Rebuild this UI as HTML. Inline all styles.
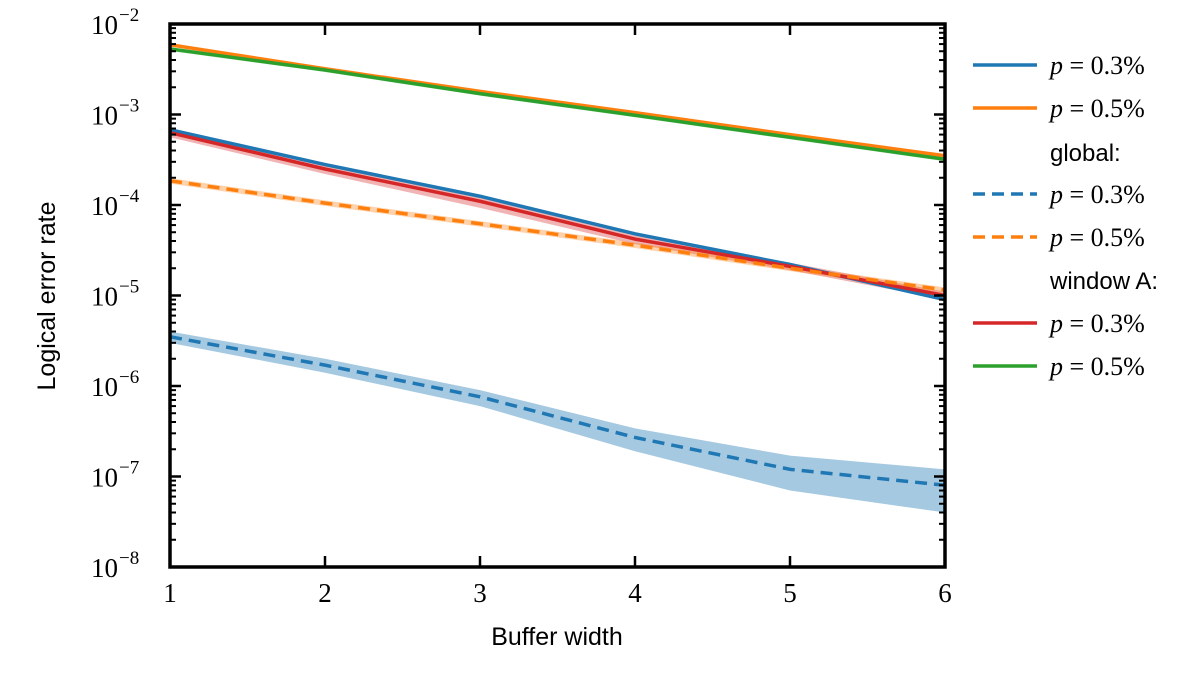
<!DOCTYPE html>
<html><head><meta charset="utf-8"><style>
body{margin:0;background:#fff}
svg text{font-family:"Liberation Serif",serif}
.sans{font-family:"Liberation Sans",sans-serif}
</style></head><body>
<svg id="chart" width="1199" height="672" xmlns="http://www.w3.org/2000/svg">
<g id="bands"></g>
<g id="lines"></g>
<g id="axes"></g>
<g id="legend"></g>
</svg>
<script>
const xCats=[1,2,3,4,5,6];
const localP3=[6.8e-4,2.8e-4,1.25e-4,4.8e-5,2.2e-5,9e-6];
const localP5=[5.9e-3,3.2e-3,1.8e-3,1.05e-3,6e-4,3.5e-4];
const globalP3=[3.5e-6,1.7e-6,7.6e-7,2.7e-7,1.2e-7,8e-8];
const globalP3Lo=[3.0e-6,1.4e-6,6e-7,1.9e-7,7e-8,4e-8];
const globalP3Hi=[4.0e-6,2.0e-6,9e-7,3.4e-7,1.7e-7,1.2e-7];
const globalP5=[1.85e-4,1.05e-4,6.2e-5,3.6e-5,2.0e-5,1.15e-5];
const windowP3=[6.3e-4,2.5e-4,1.1e-4,4.2e-5,2.1e-5,1.0e-5];
const windowP3Lo=[5.6e-4,2.2e-4,9.3e-5,3.7e-5,1.9e-5,9e-6];
const windowP3Hi=[7.0e-4,2.8e-4,1.3e-4,4.6e-5,2.3e-5,1.1e-5];
const windowP5=[5.3e-3,3.1e-3,1.7e-3,9.8e-4,5.6e-4,3.2e-4];
const yTickExps=[-2,-3,-4,-5,-6,-7,-8];

const X0=170,X1=945,Y0=24,Y1=567;
const xs=v=>X0+(v-1)/5*(X1-X0);
const ys=v=>Y0+(-2-Math.log10(v))/6*(Y1-Y0);
const NS="http://www.w3.org/2000/svg";
function mk(tag,parent,attrs){const e=document.createElementNS(NS,tag);for(const k in attrs)e.setAttribute(k,attrs[k]);parent.appendChild(e);return e;}
const bands=document.getElementById('bands'),lines=document.getElementById('lines'),axes=document.getElementById('axes'),legend=document.getElementById('legend');

function band(lo,hi,color,op,name){
  let d='M'+xCats.map((x,i)=>xs(x)+','+ys(hi[i])).join('L')+'L'+xCats.slice().reverse().map((x,j)=>{const i=xCats.length-1-j;return xs(x)+','+ys(lo[i]);}).join('L')+'Z';
  const p=mk('path',bands,{d:d,fill:color,'fill-opacity':op});
  
  
}
function line(vals,color,dash,name){
  const p=mk('path',lines,{d:'M'+xCats.map((x,i)=>xs(x)+','+ys(vals[i])).join('L'),fill:'none',stroke:color,'stroke-width':3.5,'stroke-dasharray':dash||'none','stroke-linejoin':'round'});
  
  
}
band(globalP3Lo,globalP3Hi,'#1f77b4',0.4,'global-p03-band');
band(windowP3Lo,windowP3Hi,'#d62728',0.35,'window-p03-band');
band(globalP5.map(v=>v*0.93),globalP5.map(v=>v*1.07),'#ff7f0e',0.35,'global-p05-band');
band(windowP5.map(v=>v*0.95),windowP5.map(v=>v*1.05),'#2ca02c',0.35,'window-p05-band');
line(localP5,'#ff7f0e',null,'local-p05-line');
line(windowP5,'#2ca02c',null,'window-p05-line');
line(localP3,'#1f77b4',null,'local-p03-line');
line(windowP3,'#d62728',null,'window-p03-line');
line(globalP5,'#ff7f0e','12,7','global-p05-line');
line(globalP3,'#1f77b4','12,7','global-p03-line');

const fr=mk('rect',axes,{x:X0,y:Y0,width:X1-X0,height:Y1-Y0,fill:'none',stroke:'#000','stroke-width':3.5});

xCats.forEach(v=>{
  const x=xs(v);
  mk('line',axes,{x1:x,x2:x,y1:Y1,y2:Y1-11,stroke:'#000','stroke-width':2.5});
  mk('line',axes,{x1:x,x2:x,y1:Y0,y2:Y0+11,stroke:'#000','stroke-width':2.5});
  const t=mk('text',axes,{x:x,y:Y1+35,'text-anchor':'middle','font-size':27});
  t.textContent=v;
  
});
yTickExps.forEach(e=>{
  const y=ys(Math.pow(10,e));
  mk('line',axes,{x1:X0,x2:X0+11,y1:y,y2:y,stroke:'#000','stroke-width':2.5});
  mk('line',axes,{x1:X1,x2:X1-11,y1:y,y2:y,stroke:'#000','stroke-width':2.5});
  if(e>-8){for(let m=2;m<10;m++){const yy=ys(m*Math.pow(10,e-1));
    mk('line',axes,{x1:X0,x2:X0+6,y1:yy,y2:yy,stroke:'#000','stroke-width':2});
    mk('line',axes,{x1:X1,x2:X1-6,y1:yy,y2:yy,stroke:'#000','stroke-width':2});}}
  const t=mk('text',axes,{x:118,y:y+10,'text-anchor':'end','font-size':27});
  t.textContent='10';
  
  const s=mk('text',axes,{x:119,y:y-3,'font-size':19});
  s.textContent='\u2212'+(-e);
});
const xt=mk('text',axes,{x:557,y:645,'text-anchor':'middle','font-size':25,class:'sans'});
xt.textContent='Buffer width';

const yt=mk('text',axes,{x:0,y:0,'text-anchor':'middle','font-size':25,class:'sans',transform:'translate(55,296) rotate(-90)'});
yt.textContent='Logical error rate';


const legRows=[
 {y:65,c:'#1f77b4',d:null,t:'p'},{y:108,c:'#ff7f0e',d:null,t:'p5'},{y:152,h:'global:'},
 {y:194,c:'#1f77b4',d:'12,7',t:'p'},{y:237,c:'#ff7f0e',d:'12,7',t:'p5'},{y:280,h:'window A:'},
 {y:323,c:'#d62728',d:null,t:'p'},{y:366,c:'#2ca02c',d:null,t:'p5'}];
legRows.forEach(r=>{
  if(r.h){const t=mk('text',legend,{x:1050,y:r.y+9,'font-size':24,class:'sans'});t.textContent=r.h;
    return;}
  const l=mk('line',legend,{x1:973,x2:1037,y1:r.y,y2:r.y,stroke:r.c,'stroke-width':3.5,'stroke-dasharray':r.d||'none'});
  
  const t=mk('text',legend,{x:1050,y:r.y+9,'font-size':26});
  const i=mk('tspan',t,{'font-style':'italic'});i.textContent='p';
  const rest=mk('tspan',t,{});rest.textContent=' = 0.'+(r.t==='p'?'3':'5')+'%';
  
});
</script>
</body></html>
